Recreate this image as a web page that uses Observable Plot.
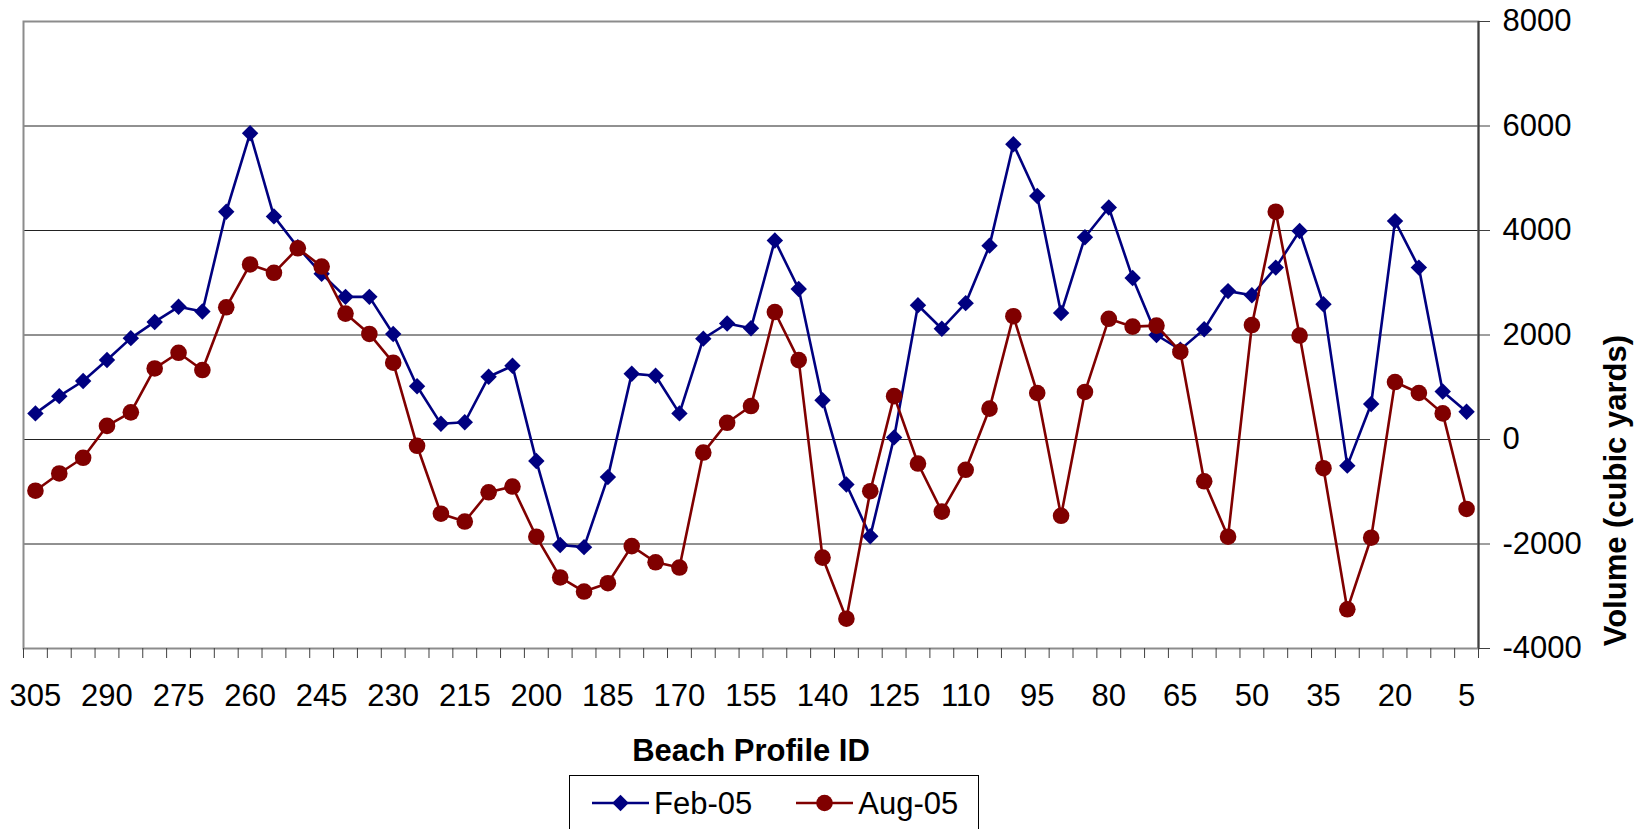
<!DOCTYPE html>
<html>
<head>
<meta charset="utf-8">
<script src="https://cdn.jsdelivr.net/npm/d3@7"></script>
<script src="https://cdn.jsdelivr.net/npm/@observablehq/plot@0.6"></script>
<style>
  html, body { margin: 0; padding: 0; background: #fff; overflow: hidden; }
  #chart { position: relative; width: 1640px; height: 829px; font-family: "Liberation Sans", Arial, sans-serif; }
  #chart svg.plot { display: block; }
  #legend { position: absolute; left: 569px; top: 775px; width: 410px; height: 80px; box-sizing: border-box;
            border: 1px solid #000; background: #fff; }
  #legend .row { display: flex; align-items: center; height: 54px; padding-left: 22px; }
  #legend .item { display: flex; align-items: center; }
  #legend .item + .item { margin-left: 44px; }
  #legend .item svg { display: block; margin-right: 5px; }
  #legend .item span { font-size: 31px; color: #000; line-height: 1; }
</style>
</head>
<body>
<div id="chart"></div>
<script>
// ---- data ----
const profileIds = [305, 300, 295, 290, 285, 280, 275, 270, 265, 260, 255, 250, 245, 240, 235, 230, 225, 220, 215, 210,
  205, 200, 195, 190, 185, 180, 175, 170, 165, 160, 155, 150, 145, 140, 135, 130, 125, 120, 115, 110,
  105, 100, 95, 90, 85, 80, 75, 70, 65, 60, 55, 50, 45, 40, 35, 30, 25, 20, 15, 10, 5];

const feb05 = [500, 830, 1120, 1520, 1940, 2250, 2540, 2450, 4360, 5860, 4270, 3680,
  3170, 2730, 2730, 2020, 1020, 300, 330, 1200, 1410, -410, -2020, -2060,
  -720, 1260, 1220, 500, 1930, 2220, 2130, 3810, 2880, 750, -860, -1850,
  40, 2570, 2120, 2610, 3710, 5650, 4660, 2420, 3870, 4440, 3090, 2000,
  1720, 2110, 2840, 2760, 3290, 3990, 2590, -500, 680, 4180, 3290, 920, 530];

const aug05 = [-980, -650, -350, 260, 520, 1360, 1660, 1330, 2530, 3350, 3190, 3660,
  3310, 2410, 2020, 1470, -120, -1420, -1570, -1010, -900, -1860, -2640, -2910,
  -2750, -2040, -2350, -2450, -250, 320, 640, 2440, 1520, -2260, -3430, -990,
  830, -460, -1380, -580, 590, 2360, 890, -1460, 910, 2310, 2160, 2180,
  1680, -800, -1860, 2190, 4360, 1990, -550, -3250, -1880, 1100, 890, 500, -1330];

const seriesNames = ["Feb-05", "Aug-05"];
const seriesColors = ["#000080", "#800000"];
const seriesSymbols = ["diamond2", "circle"];
const yTicks = [-4000, -2000, 0, 2000, 4000, 6000, 8000];
const xTickLabels = [305, 290, 275, 260, 245, 230, 215, 200, 185, 170, 155, 140, 125, 110, 95, 80, 65, 50, 35, 20, 5];
const xTitle = "Beach Profile ID";
const yTitle = "Volume (cubic yards)";

// ---- derived tables ----
const seriesValues = [feb05, aug05];
const rows = seriesNames.map((name, k) => profileIds.map((id, i) => ({series: name, id, v: seriesValues[k][i]})));
const step = Math.abs(profileIds[0] - profileIds[1]);
const xDomain = [d3.max(profileIds) + step / 2, d3.min(profileIds) - step / 2];
const bandEdges = profileIds.map(d => d + step / 2).concat([d3.min(profileIds) - step / 2]);

const FS = 31;
const markerR = [7.4, 8.3];
const seriesMarks = rows.flatMap((data, k) => [
  Plot.line(data, {x: "id", y: "v", stroke: seriesColors[k], strokeWidth: 2.6}),
  Plot.dot(data, {x: "id", y: "v", symbol: seriesSymbols[k], r: markerR[k], fill: seriesColors[k], stroke: "none"})
]);

const plot = Plot.plot({
  width: 1640,
  height: 775,
  marginLeft: 23,
  marginRight: 162,
  marginTop: 21,
  marginBottom: 127,
  style: {fontFamily: "'Liberation Sans', Arial, sans-serif", fontSize: FS + "px", color: "#000", background: "#fff", overflow: "visible"},
  x: {type: "linear", domain: xDomain},
  y: {type: "linear", domain: [yTicks[0], yTicks[yTicks.length - 1]]},
  marks: [
    Plot.gridY(yTicks.slice(1, -1), {stroke: "#222", strokeOpacity: 1, strokeWidth: 1}),
    Plot.frame({stroke: "#8c8c8c", strokeWidth: 2}),
    Plot.ruleX([xDomain[1]], {stroke: "#404040", strokeWidth: 2}),
    Plot.axisY(yTicks, {anchor: "right", tickSize: 11, tickPadding: 13, tickFormat: d => String(d), label: null, fontSize: FS, stroke: "#404040"}),
    Plot.axisX(bandEdges, {anchor: "bottom", tickSize: 10, tickFormat: () => "", label: null, stroke: "#404040"}),
    Plot.axisX(xTickLabels, {anchor: "bottom", tickSize: 0, tickPadding: 35, tickFormat: d => String(d), label: null, fontSize: FS}),
    ...seriesMarks,
    Plot.text([xTitle], {text: d => d, frameAnchor: "bottom", dy: 103, lineAnchor: "middle", fontWeight: "bold", fontSize: FS, fill: "#000"}),
    Plot.text([yTitle], {text: d => d, frameAnchor: "right", dx: 138, rotate: -90, lineAnchor: "middle", fontWeight: "bold", fontSize: FS, fill: "#000"})
  ]
});
plot.classList.add("plot");
const chart = document.getElementById("chart");
chart.appendChild(plot);

// ---- legend ----
const legend = document.createElement("div");
legend.id = "legend";
const row = document.createElement("div");
row.className = "row";
seriesNames.forEach((name, k) => {
  const item = document.createElement("div");
  item.className = "item";
  const sw = d3.create("svg").attr("width", 57).attr("height", 20);
  sw.append("line").attr("x1", 0).attr("x2", 57).attr("y1", 10).attr("y2", 10)
    .attr("stroke", seriesColors[k]).attr("stroke-width", 2.6);
  const sym = k === 0 ? d3.symbolDiamond2 : d3.symbolCircle;
  const rr = markerR[k];
  sw.append("path").attr("transform", "translate(28.5,10)")
    .attr("d", d3.symbol(sym, rr * rr * Math.PI)()).attr("fill", seriesColors[k]);
  item.appendChild(sw.node());
  const t = document.createElement("span");
  t.textContent = name;
  item.appendChild(t);
  row.appendChild(item);
});
legend.appendChild(row);
chart.appendChild(legend);
</script>
</body>
</html>
